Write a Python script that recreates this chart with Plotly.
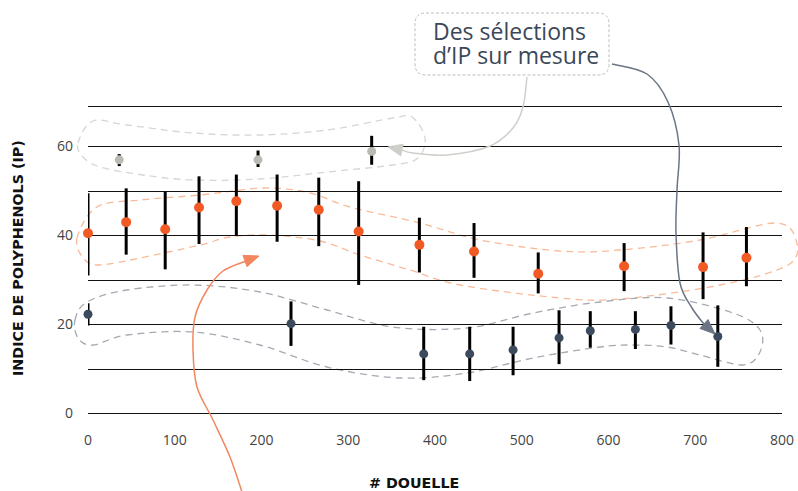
import plotly.graph_objects as go

# ---------------- data ----------------
gray_x = [36, 196, 327]
gray_y = [57.0, 57.0, 58.9]
gray_hi = [58.3, 59.1, 62.4]
gray_lo = [55.6, 55.4, 55.9]

orange_x = [0, 44, 89, 128, 171, 218, 266, 312, 382, 445, 519, 618, 709, 759]
orange_y = [40.5, 43.0, 41.4, 46.3, 47.7, 46.7, 45.8, 40.9, 37.9, 36.4, 31.4, 33.1, 32.9, 35.0]
orange_hi = [49.5, 50.6, 49.8, 53.3, 53.7, 53.7, 53.0, 52.2, 44.0, 42.8, 36.2, 38.3, 40.7, 41.9]
orange_lo = [31.0, 35.7, 32.4, 38.1, 40.0, 38.6, 37.6, 28.9, 31.7, 30.5, 27.0, 27.5, 25.7, 28.6]

dark_x = [0, 234, 387, 440, 490, 543, 579, 631, 672, 726]
dark_y = [22.3, 20.2, 13.4, 13.4, 14.3, 17.0, 18.6, 18.9, 19.8, 17.3]
dark_hi = [24.8, 25.2, 19.5, 19.5, 19.5, 23.2, 23.0, 23.0, 24.1, 24.3]
dark_lo = [19.8, 15.2, 7.5, 7.3, 8.6, 11.1, 14.8, 14.5, 15.5, 10.5]

x_ticks = [0, 100, 200, 300, 400, 500, 600, 700, 800]
y_grid = [0, 10, 20, 30, 40, 50, 60, 69]
y_labels = ["0", "", "20", "", "40", "", "60", ""]

callout_lines = ["Des sélections", "d\u2019IP sur mesure"]
x_title = "# DOUELLE"
y_title = "INDICE DE POLYPHENOLS (IP)"

# ---------------- layout geometry (screen pixels) ----------------
W, H = 798, 491
L, R, T, B = 88, 782, 100, 430
FONT = "Open Sans"
TITLE_FONT = "DejaVu Sans"


def px(x):
    return (x - L) / (R - L)


def py(y):
    return (B - y) / (B - T)


def smooth_path(pts, closed=True):
    n = len(pts)
    P = [(px(x), py(y)) for x, y in pts]
    d = "M %.5f,%.5f" % P[0]
    segs = n if closed else n - 1
    for i in range(segs):
        if closed:
            p0, p1, p2, p3 = P[(i - 1) % n], P[i], P[(i + 1) % n], P[(i + 2) % n]
        else:
            p0 = P[max(i - 1, 0)]
            p1 = P[i]
            p2 = P[i + 1]
            p3 = P[min(i + 2, n - 1)]
        c1 = (p1[0] + (p2[0] - p0[0]) / 6, p1[1] + (p2[1] - p0[1]) / 6)
        c2 = (p2[0] - (p3[0] - p1[0]) / 6, p2[1] - (p3[1] - p1[1]) / 6)
        d += " C %.5f,%.5f %.5f,%.5f %.5f,%.5f" % (c1 + c2 + p2)
    if closed:
        d += " Z"
    return d


def arrow_head(base, tip, half=6.0):
    bx, by = base
    tx, ty = tip
    dx, dy = tx - bx, ty - by
    ln = (dx * dx + dy * dy) ** 0.5
    nx, ny = -dy / ln * half, dx / ln * half
    a = (bx + nx, by + ny)
    b = (bx - nx, by - ny)
    return "M %.5f,%.5f L %.5f,%.5f L %.5f,%.5f Z" % (
        px(tip[0]), py(tip[1]), px(a[0]), py(a[1]), px(b[0]), py(b[1]))


def err(y, hi, lo):
    return dict(type="data", symmetric=False,
                array=[h - v for h, v in zip(hi, y)],
                arrayminus=[v - l for v, l in zip(y, lo)],
                color="black", thickness=3, width=0)


fig = go.Figure()
fig.add_trace(go.Scatter(x=gray_x, y=gray_y, mode="markers", cliponaxis=False,
                         marker=dict(color="#b9bab3", size=9),
                         error_y=err(gray_y, gray_hi, gray_lo), showlegend=False))
fig.add_trace(go.Scatter(x=orange_x, y=orange_y, mode="markers", cliponaxis=False,
                         marker=dict(color="#f15a24", size=10),
                         error_y=err(orange_y, orange_hi, orange_lo), showlegend=False))
fig.add_trace(go.Scatter(x=dark_x, y=dark_y, mode="markers", cliponaxis=False,
                         marker=dict(color="#3b4a5c", size=9),
                         error_y=err(dark_y, dark_hi, dark_lo), showlegend=False))

shapes = []
# dashed outlines around groups
gray_blob = [(78, 143), (93, 121), (127, 125), (193, 133), (260, 135), (327, 130),
             (393, 118), (412, 117), (425, 138), (418, 158), (393, 165), (327, 172),
             (260, 179), (193, 180), (143, 175), (100, 167), (83, 157)]
orange_blob = [(77, 238), (97, 207), (140, 200), (200, 195), (265, 188), (310, 193),
               (350, 207), (420, 223), (480, 240), (560, 251), (620, 250), (700, 240),
               (775, 223), (796, 240), (788, 265), (720, 285), (620, 299), (560, 298),
               (460, 285), (410, 270), (360, 255), (320, 241), (270, 235), (230, 237),
               (200, 245), (140, 258), (100, 265), (84, 259)]
dark_blob = [(75, 320), (87, 302), (127, 290), (193, 285), (260, 292), (327, 310),
             (393, 327), (467, 328), (533, 313), (600, 302), (667, 298), (733, 313),
             (760, 330), (760, 352), (743, 365), (700, 355), (667, 347), (633, 345),
             (600, 347), (533, 358), (467, 373), (400, 378), (327, 367), (260, 345),
             (193, 332), (127, 335), (93, 345), (78, 338)]
for pts, col in [(gray_blob, "#d6d6d4"), (orange_blob, "#f8bb9a"), (dark_blob, "#a6aab2")]:
    shapes.append(dict(type="path", xref="paper", yref="paper", path=smooth_path(pts),
                       line=dict(color=col, width=1.3, dash="7px,5px"), layer="below"))

# callout box (rounded, dashed)
bx0, bx1, by0, by1, r = 415, 609, 13, 75, 11
box = ("M %f,%f L %f,%f Q %f,%f %f,%f L %f,%f Q %f,%f %f,%f L %f,%f Q %f,%f %f,%f "
       "L %f,%f Q %f,%f %f,%f Z") % (
    px(bx0 + r), py(by0), px(bx1 - r), py(by0), px(bx1), py(by0), px(bx1), py(by0 + r),
    px(bx1), py(by1 - r), px(bx1), py(by1), px(bx1 - r), py(by1),
    px(bx0 + r), py(by1), px(bx0), py(by1), px(bx0), py(by1 - r),
    px(bx0), py(by0 + r), px(bx0), py(by0), px(bx0 + r), py(by0))
shapes.append(dict(type="path", xref="paper", yref="paper", path=box,
                   line=dict(color="#bdbdbd", width=1, dash="3px,2px")))

# curved arrows
arrows = [
    ([(527, 77), (523, 107), (513, 128), (490, 146), (447, 155), (413, 153), (402, 150)],
     (402, 150), (388, 147), "#cfcfca"),
    ([(612, 64), (647, 74), (668, 102), (679, 145), (677, 190), (676, 233), (680, 283),
      (692, 308), (704, 324)], (704, 324), (715, 334), "#6b7585"),
    ([(242, 492), (230, 457), (213, 420), (197, 387), (193, 350), (195, 317), (207, 290),
      (223, 271), (246, 261)], (245, 261), (259, 256), "#f4865f"),
]
for pts, base, tip, col in arrows:
    shapes.append(dict(type="path", xref="paper", yref="paper",
                       path=smooth_path(pts, closed=False), line=dict(color=col, width=1.5)))
    shapes.append(dict(type="path", xref="paper", yref="paper", path=arrow_head(base, tip),
                       fillcolor=col, line=dict(color=col, width=1)))

# callout text: one block, 23px glyphs on a 24px line pitch (1.3 x 18.5)
callout_text = "<br>".join('<span style="font-size:23px">%s</span>' % s for s in callout_lines)

annotations = [
    dict(text=callout_text, xref="paper", yref="paper", x=px(431), y=py(43),
         xanchor="left", yanchor="middle", align="left", showarrow=False,
         font=dict(family=FONT, size=18.5, color="#3c4757")),
    dict(text="<b>%s</b>" % x_title, xref="paper", yref="paper", x=px(414), y=py(483),
         xanchor="center", yanchor="middle", showarrow=False,
         font=dict(family=TITLE_FONT, size=14.3, color="#111111")),
    dict(text="<b>%s</b>" % y_title, xref="paper", yref="paper", x=px(18), y=py(258),
         xanchor="center", yanchor="middle", showarrow=False, textangle=-90,
         font=dict(family=TITLE_FONT, size=14.3, color="#111111")),
]

fig.update_layout(
    width=W, height=H,
    margin=dict(l=L, r=W - R, t=T, b=H - B, pad=0),
    paper_bgcolor="white", plot_bgcolor="white",
    shapes=shapes, annotations=annotations,
    font=dict(family=FONT, size=14, color="#444444"),
    xaxis=dict(range=[0, 800], tickvals=x_ticks, showgrid=False, zeroline=False,
               showline=False, ticks="", tickfont=dict(size=14, color="#444444"),
               automargin=False),
    yaxis=dict(range=[-3.7, 70.45], tickvals=y_grid, ticktext=y_labels, showgrid=True,
               gridcolor="#111111", gridwidth=1.3, zeroline=False, showline=False,
               ticks="", ticklabelstandoff=14, tickfont=dict(size=14, color="#444444"),
               automargin=False),
)

# remove the default 8px page margin so the figure sits at the top-left corner
fig.write_html("out.html", config={"displayModeBar": False},
               post_script="document.body.style.margin='0';")
